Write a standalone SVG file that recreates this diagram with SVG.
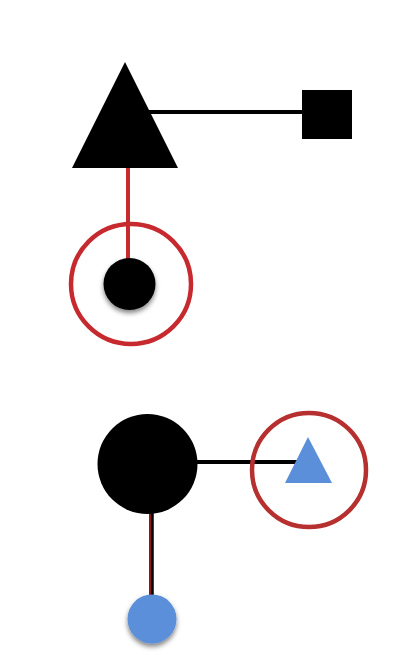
<svg xmlns="http://www.w3.org/2000/svg" width="420" height="666" viewBox="0 0 420 666">
<style>
.edge{stroke:#000;stroke-width:4;fill:none}
.red{stroke:#c62a2f;stroke-width:4;fill:none}
.ring{fill:none;stroke:#c62a2f;stroke-width:4.5}
.ring2{fill:none;stroke:#b5302f;stroke-width:4.5}
.blk{fill:#000}
.blue{fill:#5b8fd9}
</style>
<defs>
<filter id="sh" x="-50%" y="-50%" width="200%" height="200%">
<feGaussianBlur in="SourceAlpha" stdDeviation="2.5"/>
<feOffset dx="0" dy="3" result="b"/>
<feComponentTransfer><feFuncA type="linear" slope="0.5"/></feComponentTransfer>
<feMerge><feMergeNode/><feMergeNode in="SourceGraphic"/></feMerge>
</filter>
</defs>
<rect width="420" height="666" fill="#fff"/>
<g id="connectors">
<line class="edge" x1="140" y1="112" x2="304" y2="112"/>
<line class="red" x1="128" y1="160" x2="128" y2="262"/>
<line class="edge" x1="190" y1="462" x2="297" y2="462"/>
<line x1="151" y1="505" x2="151" y2="600" stroke="#8a1a1a" stroke-width="4"/>
<line x1="152.5" y1="505" x2="152.5" y2="600" stroke="#000" stroke-width="2.5"/>
</g>
<g id="triangle"><polygon class="blk" points="125,62 72,168 178,168"/></g>
<g id="square"><rect class="blk" x="302" y="90" width="50" height="49"/></g>
<g id="ring-top"><circle class="ring" cx="131" cy="284" r="60"/></g>
<g id="dot"><circle class="blk" cx="129.5" cy="284" r="26" filter="url(#sh)"/></g>
<g id="big-circle"><circle class="blk" cx="147.5" cy="464" r="50"/></g>
<g id="ring-bottom"><circle class="ring2" cx="309" cy="470" r="57"/></g>
<g id="blue-triangle"><polygon class="blue" points="308,437 285,483 332,483"/></g>
<g id="blue-dot"><circle class="blue" cx="152" cy="619" r="24.5" filter="url(#sh)"/></g>
</svg>
